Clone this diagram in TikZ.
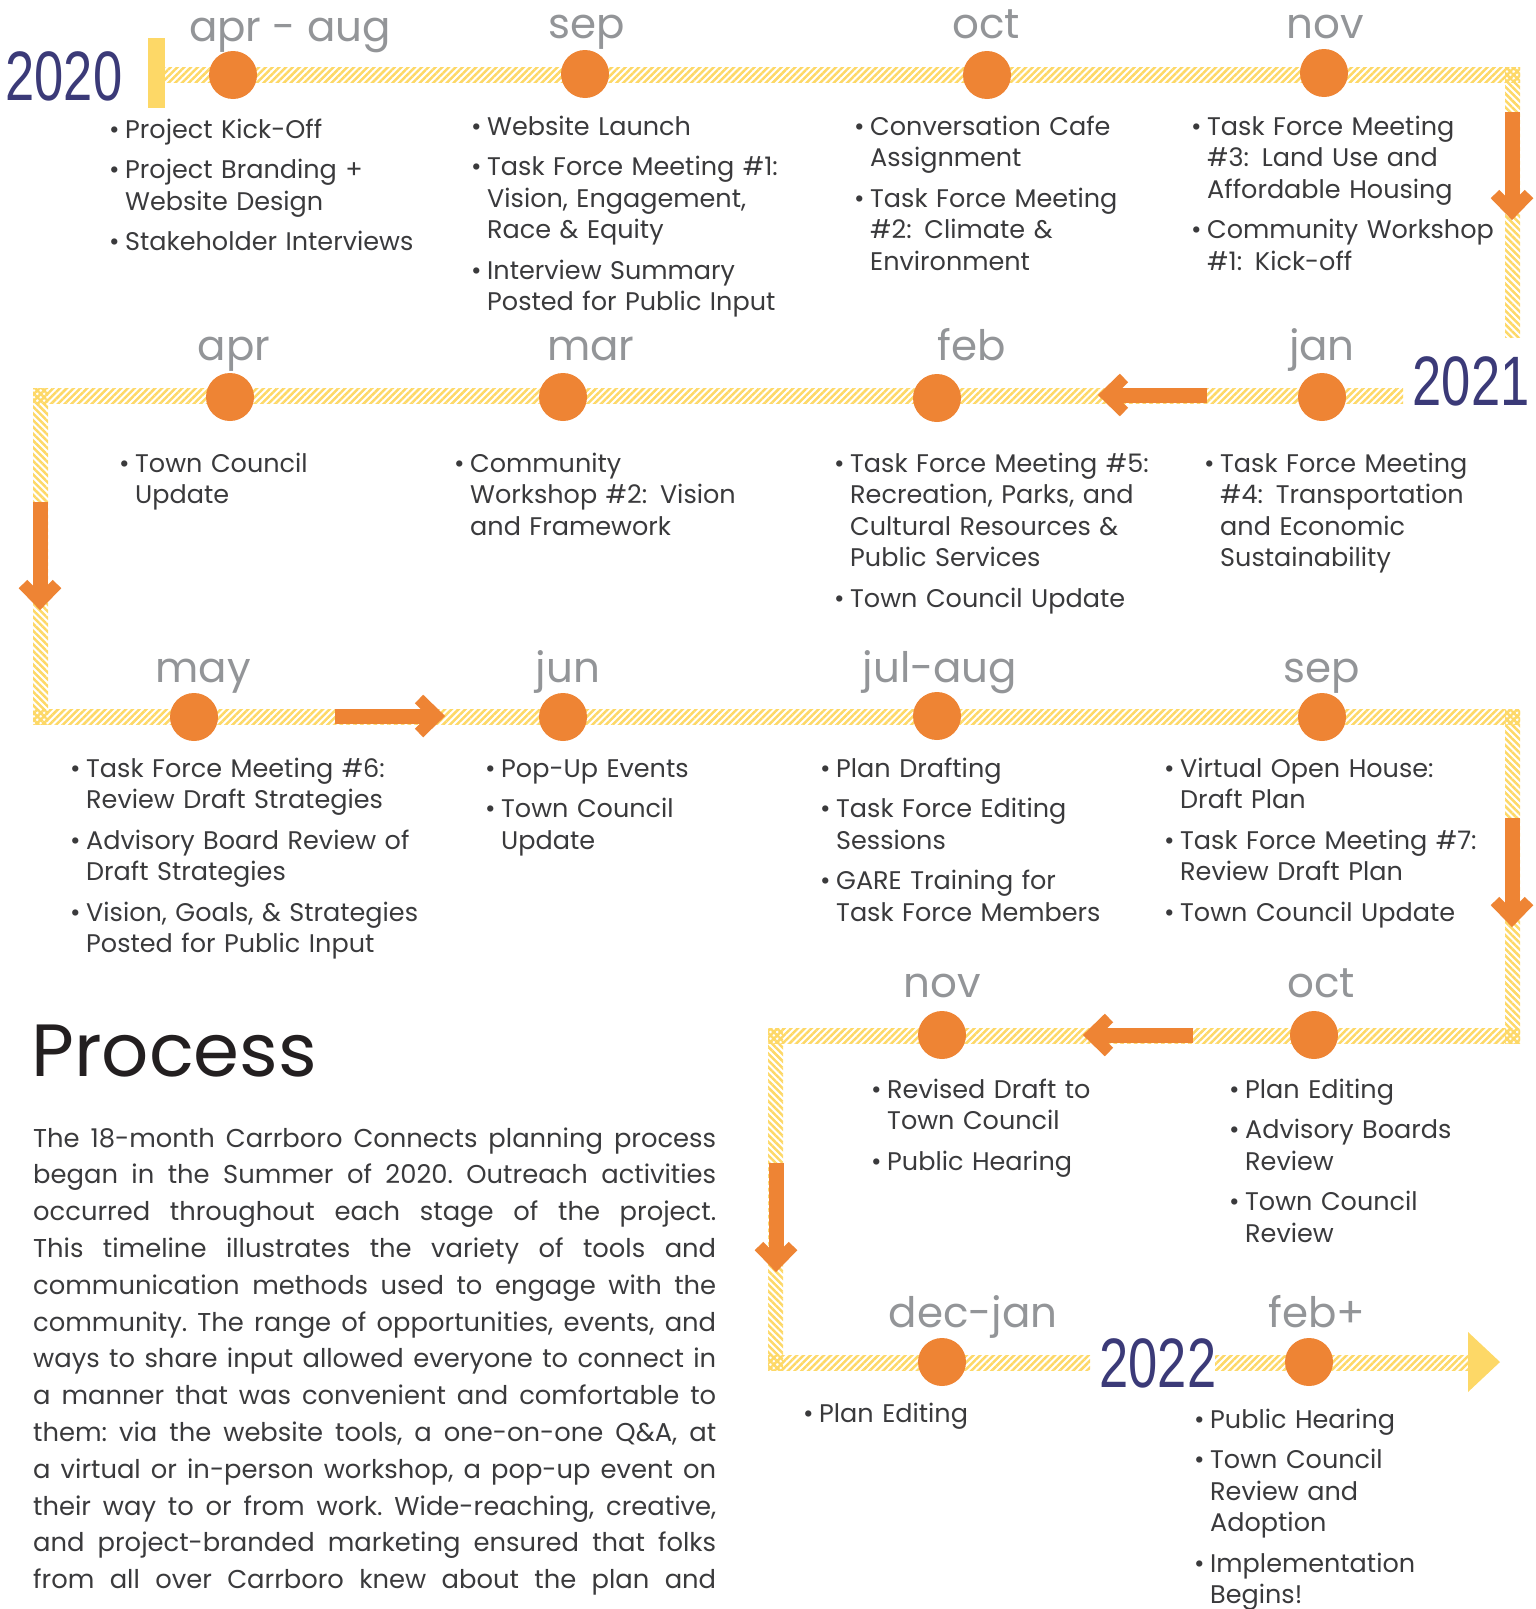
\documentclass[tikz,border=0pt]{standalone}
\usepackage{fontspec}
\setmainfont{Poppins}
\newfontfamily\yearfont[FakeStretch=0.75]{Liberation Sans}
\usetikzlibrary{patterns.meta}
\definecolor{bandyellow}{HTML}{FDD867}
\definecolor{flowor}{HTML}{EE8434}
\definecolor{monthgrey}{HTML}{939598}
\definecolor{yearblue}{HTML}{3B3A78}
\definecolor{textgrey}{HTML}{3A3A3C}
\definecolor{headblack}{HTML}{231F20}
\newcommand{\itm}[1]{{\leftskip=16pt\noindent\hskip-16pt\makebox[16pt][l]{\textbullet}#1\par}\vspace{9pt}}
\newcommand{\flowarrow}[4]{%
  \begin{scope}[shift={(#1,#2)},rotate=#4]
    \draw[flow] (0,0) -- (#3-8,0);
    \draw[barb] (#3-26,-17) -- (#3-8.5,0) -- (#3-26,17);
  \end{scope}}

\begin{document}
\begin{tikzpicture}[x=1pt,y=-1pt,
    hband/.style={pattern={Lines[angle=45,distance=4.8pt,line width=2.5pt]},pattern color=bandyellow},
    vband/.style={pattern={Lines[angle=-45,distance=4.8pt,line width=2.5pt]},pattern color=bandyellow},
    flow/.style={draw=flowor,line width=15pt},
    barb/.style={draw=flowor,line width=12pt},
    dot/.style={circle,fill=flowor,minimum size=48pt,inner sep=0pt},
    month/.style={anchor=base,inner sep=0pt,text=monthgrey,font=\fontsize{42}{42}\selectfont},
    year/.style={anchor=base,inner sep=0pt,text=yearblue,font=\yearfont\fontsize{70}{70}\selectfont},
    items/.style={anchor=base west,inner sep=0pt,text width=430pt,text=textgrey,font=\fontsize{25.5}{31.5}\selectfont}]
\useasboundingbox (0,0) rectangle (1535,1609);

% the hatched path
\fill[bandyellow] (148,38) rectangle (165,108);
\fill[hband] (165,67) rectangle (1520,82);
\fill[vband] (1505,67) rectangle (1520,337);
\fill[hband] (33,388) rectangle (1403,403);
\fill[vband] (33,388) rectangle (48,724);
\fill[hband] (33,709) rectangle (1520,724);
\fill[vband] (1505,709) rectangle (1520,1043);
\fill[hband] (768,1028) rectangle (1520,1043);
\fill[vband] (768,1028) rectangle (783,1370);
\fill[hband] (768,1355) rectangle (1090,1370);
\fill[hband] (1215,1355) rectangle (1468,1370);
\fill[bandyellow] (1468,1332) -- (1500,1362) -- (1468,1392) -- cycle;

% direction arrows
\flowarrow{1512}{112}{108}{-90}
\flowarrow{1207}{395}{109}{180}
\flowarrow{40}{502}{108}{-90}
\flowarrow{335}{716}{110}{0}
\flowarrow{1512}{818}{109}{-90}
\flowarrow{1193}{1035}{110}{180}
\flowarrow{776}{1163}{109}{-90}

% years
\node[year] (y20) at (64,100) {2020};
\node[year] (y21) at (1471,405) {2021};
\node[year] (y22) at (1158,1387) {2022};

% 2020
\node[dot] (d1) at (233,75) {};
\node[dot] (d2) at (585,74) {};
\node[dot] (d3) at (987,75) {};
\node[dot] (d4) at (1324,73) {};
\node[month] (m1) at (290,41) {apr - aug};
\node[month] (m2) at (587,38) {sep};
\node[month] (m3) at (986,38) {oct};
\node[month] (m4) at (1325,38) {nov};
\node[items] (t1) at (109,138) {\itm{Project Kick-Off}\itm{Project Branding +\\Website Design}\itm{Stakeholder Interviews}};
\node[items] (t2) at (471,135) {\itm{Website Launch}\itm{Task Force Meeting \#1:\\Vision, Engagement,\\Race \& Equity}\itm{Interview Summary\\Posted for Public Input}};
\node[items] (t3) at (854,135) {\itm{Conversation Cafe\\Assignment}\itm{Task Force Meeting\\\#2: Climate \&\\Environment}};
\node[items] (t4) at (1191,135) {\itm{Task Force Meeting\\\#3: Land Use and\\Affordable Housing}\itm{Community Workshop\\\#1: Kick-off}};

% 2021, first half
\node[dot] (d5) at (230,397) {};
\node[dot] (d6) at (563,397) {};
\node[dot] (d7) at (937,398) {};
\node[dot] (d8) at (1322,397) {};
\node[month] (m5) at (234,360) {apr};
\node[month] (m6) at (591,360) {mar};
\node[month] (m7) at (972,360) {feb};
\node[month] (m8) at (1322,360) {jan};
\node[items] (t5) at (119,472) {\itm{Town Council\\Update}};
\node[items] (t6) at (454,472) {\itm{Community\\Workshop \#2: Vision\\and Framework}};
\node[items] (t7) at (834,472) {\itm{Task Force Meeting \#5:\\Recreation, Parks, and\\Cultural Resources \&\\Public Services}\itm{Town Council Update}};
\node[items] (t8) at (1204,472) {\itm{Task Force Meeting\\\#4: Transportation\\and Economic\\Sustainability}};

% 2021, second half
\node[dot] (d9) at (194,717) {};
\node[dot] (d10) at (563,717) {};
\node[dot] (d11) at (937,716) {};
\node[dot] (d12) at (1322,717) {};
\node[month] (m9) at (203,682) {may};
\node[month] (m10) at (568,682) {jun};
\node[month] (m11) at (940,682) {jul-aug};
\node[month] (m12) at (1322,682) {sep};
\node[items] (t9) at (70,777) {\itm{Task Force Meeting \#6:\\Review Draft Strategies}\itm{Advisory Board Review of\\Draft Strategies}\itm{Vision, Goals, \& Strategies\\Posted for Public Input}};
\node[items] (t10) at (485,777) {\itm{Pop-Up Events}\itm{Town Council\\Update}};
\node[items] (t11) at (820,777) {\itm{Plan Drafting}\itm{Task Force Editing\\Sessions}\itm{GARE Training for\\Task Force Members}};
\node[items] (t12) at (1164,777) {\itm{Virtual Open House:\\Draft Plan}\itm{Task Force Meeting \#7:\\Review Draft Plan}\itm{Town Council Update}};

\node[dot] (d13) at (942,1035) {};
\node[dot] (d14) at (1314,1035) {};
\node[month] (m13) at (942,997) {nov};
\node[month] (m14) at (1321,997) {oct};
\node[items] (t13) at (871,1098) {\itm{Revised Draft to\\Town Council}\itm{Public Hearing}};
\node[items] (t14) at (1229,1098) {\itm{Plan Editing}\itm{Advisory Boards\\Review}\itm{Town Council\\Review}};

% 2022
\node[dot] (d15) at (942,1362) {};
\node[dot] (d16) at (1309,1362) {};
\node[month] (m15) at (973,1327) {dec-jan};
\node[month] (m16) at (1317,1327) {feb+};
\node[items] (t15) at (803,1422) {\itm{Plan Editing}};
\node[items] (t16) at (1194,1428) {\itm{Public Hearing}\itm{Town Council\\Review and\\Adoption}\itm{Implementation\\Begins!}};

% text block
\node[anchor=base west,inner sep=0pt,text=headblack,font=\fontsize{74}{74}\selectfont] (title) at (31,1076) {Process};
\node[anchor=base west,inner sep=0pt,text width=683pt,align=justify,text=textgrey,font=\fontsize{25.8}{36.8}\selectfont] (about) at (33,1147)
  {\frenchspacing\hyphenpenalty=10000\exhyphenpenalty=10000\tolerance=9999\noindent
   The 18-month Carrboro Connects planning process\linebreak
   began in the Summer of 2020. Outreach activities\linebreak
   occurred throughout each stage of the project.\linebreak
   This timeline illustrates the variety of tools and\linebreak
   communication methods used to engage with the\linebreak
   community. The range of opportunities, events, and\linebreak
   ways to share input allowed everyone to connect in\linebreak
   a manner that was convenient and comfortable to\linebreak
   them: via the website tools, a one-on-one Q\&A, at\linebreak
   a virtual or in-person workshop, a pop-up event on\linebreak
   their way to or from work. Wide-reaching, creative,\linebreak
   and project-branded marketing ensured that folks\linebreak
   from all over Carrboro knew about the plan and\linebreak};
\end{tikzpicture}
\end{document}
